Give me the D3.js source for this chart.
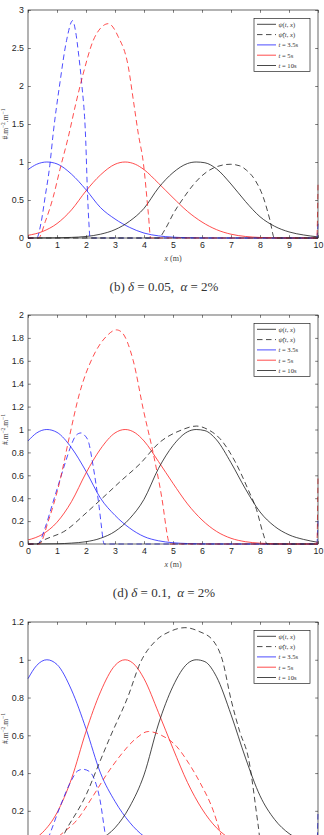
<!DOCTYPE html>
<html><head><meta charset="utf-8">
<script src="https://cdn.jsdelivr.net/npm/d3@7"></script>
<style>body{margin:0;background:#fff}svg{display:block}text{white-space:pre}</style>
</head><body>
<script>
// ---------- DATA ----------
const xTicks = [0,1,2,3,4,5,6,7,8,9,10];
const yTicks1 = [0,0.5,1,1.5,2,2.5,3];
const yTicks2 = [0,0.2,0.4,0.6,0.8,1,1.2,1.4,1.6,1.8,2];
const yTicks3 = [0,0.2,0.4,0.6,0.8,1,1.2];
const captions = ["(b)", "(d)"];
const deltas = ["0.05", "0.1"];
const alphas = ["2%", "2%"];
const legendLabels = ["ψ(t, x)", "ψ̂(t, x)", "t = 3.5s", "t = 5s", "t = 10s"];

// exact solution psi(t,x) at t = 3.5s, 5s, 10s (same in every panel)
const psiBlue = [[0,0.90],[0.3,0.97],[0.65,1.0],[1,0.975],[1.5,0.84],[2,0.635],[2.5,0.40],[3,0.25],[3.5,0.14],[4,0.065],[4.5,0.028],[5,0.011],[5.5,0.004],[6,0.001],[7,0],[10,0]];
const psiRed = [[0,0.035],[0.5,0.085],[1,0.19],[1.5,0.37],[2,0.62],[2.5,0.83],[3,0.97],[3.35,1.0],[3.7,0.97],[4,0.9],[4.5,0.72],[5,0.53],[5.5,0.35],[6,0.21],[6.5,0.11],[7,0.05],[7.5,0.02],[8,0.007],[8.5,0.002],[9,0],[10,0]];
const psiBlack = [[0,0],[1,0.002],[1.5,0.008],[2,0.02],[2.5,0.05],[3,0.11],[3.5,0.22],[4,0.39],[4.5,0.66],[5,0.86],[5.5,0.98],[5.8,1.0],[6.1,0.99],[6.5,0.91],[7,0.71],[7.5,0.48],[8,0.28],[8.5,0.155],[9,0.08],[9.5,0.04],[10,0.015]];

// estimated psi-hat, panel (b)
const hatBlue1 = [[0,0],[0.3,0],[0.45,0.2],[0.59,0.54],[0.75,0.95],[0.87,1.38],[1.1,2.04],[1.33,2.6],[1.54,2.86],[1.64,2.72],[1.75,2.4],[1.85,2.04],[1.99,1.29],[2.05,0.6],[2.1,0.2],[2.14,0],[9.96,0],[10,0.19]];
const hatRed1 = [[0,0],[0.36,0],[0.6,0.22],[0.87,0.54],[1.1,0.9],[1.39,1.33],[1.65,1.77],[1.91,2.17],[2.25,2.6],[2.5,2.76],[2.77,2.82],[3.11,2.65],[3.46,2.25],[3.63,1.82],[3.8,1.38],[3.98,0.98],[4.15,0.32],[4.23,0],[9.96,0],[10,0.72]];
const hatBlack1 = [[0,0],[4.49,0],[4.75,0.13],[5.01,0.32],[5.35,0.52],[5.7,0.70],[6.0,0.82],[6.39,0.92],[6.97,0.97],[7.3,0.95],[7.54,0.89],[7.85,0.75],[8.11,0.54],[8.34,0.24],[8.5,0],[10,0]];

// estimated psi-hat, panel (d)
const hatBlue2 = [[0,0],[0.33,0],[0.6,0.15],[0.85,0.355],[1.1,0.56],[1.31,0.73],[1.5,0.87],[1.66,0.95],[1.83,0.97],[1.95,0.95],[2.1,0.88],[2.22,0.72],[2.34,0.53],[2.45,0.33],[2.52,0.18],[2.6,0.02],[2.62,0],[9.96,0],[10,0.21]];
const hatRed2 = [[0,0],[0.39,0],[0.7,0.2],[1.08,0.53],[1.43,0.94],[1.77,1.31],[2.23,1.63],[2.69,1.81],[3.05,1.87],[3.23,1.85],[3.63,1.60],[3.98,1.17],[4.32,0.79],[4.61,0.41],[4.84,0.03],[4.87,0],[9.96,0],[10,0.59]];
const hatBlack2 = [[0,0],[0.3,0],[0.51,0.03],[1.31,0.12],[2.0,0.27],[2.69,0.43],[3.2,0.55],[3.86,0.70],[4.55,0.89],[5.24,0.99],[5.81,1.03],[6.2,1.0],[6.62,0.92],[7.14,0.72],[7.6,0.47],[7.88,0.30],[8.11,0.09],[8.25,0],[10,0]];

// estimated psi-hat, third panel
const hatBlue3 = [[0,0],[0.55,0],[0.76,0.08],[1.1,0.22],[1.51,0.365],[1.7,0.41],[1.89,0.42],[2.1,0.41],[2.25,0.38],[2.48,0.26],[2.66,0.08],[2.75,0],[9.96,0],[10,0.2]];
const hatRed3 = [[0,0],[0.6,0],[1.1,0.07],[1.68,0.15],[2.25,0.28],[2.7,0.39],[3.17,0.49],[3.7,0.58],[4.15,0.62],[4.6,0.60],[5.13,0.54],[5.55,0.45],[5.93,0.35],[6.39,0.2],[6.62,0.09],[6.8,0],[10,0]];
const hatBlack3 = [[0,0],[0.9,0],[1.39,0.12],[2.02,0.29],[2.37,0.42],[2.83,0.59],[3.46,0.81],[3.86,0.98],[4.4,1.1],[4.9,1.15],[5.41,1.17],[5.9,1.15],[6.39,1.10],[6.7,1.0],[7.0,0.79],[7.3,0.62],[7.6,0.48],[7.94,0.12],[8.05,0],[10,0]];

// ---------- DRAWING ----------
const W = 324, H = 835;
const COL = {blue:"#2020ff", red:"#ff2020", black:"#1a1a1a", axis:"#262626"};
const SERIF = "'Liberation Serif', 'DejaVu Serif', serif";
const svg = d3.select("body").append("svg").attr("width", W).attr("height", H);

const panels = [
  {top:10, bottom:238, yMax:3, yTicks:yTicks1, hat:[hatBlue1,hatRed1,hatBlack1], cap:0},
  {top:315, bottom:544, yMax:2, yTicks:yTicks2, hat:[hatBlue2,hatRed2,hatBlack2], cap:1},
  {top:622, bottom:848.6, yMax:1.2, yTicks:yTicks3, hat:[hatBlue3,hatRed3,hatBlack3], cap:-1}
];
const left = 28, right = 318;
const fmt = d => String(+d.toFixed(1));

panels.forEach(p => {
  const g = svg.append("g");
  const x = d3.scaleLinear().domain([0,10]).range([left,right]);
  const y = d3.scaleLinear().domain([0,p.yMax]).range([p.bottom,p.top]);
  const line = d3.line().x(d=>x(d[0])).y(d=>y(d[1])).curve(d3.curveMonotoneX);
  const onCanvas = p.bottom < H - 12;

  // axes
  const ax = (gen, tr, labels) => {
    const a = g.append("g").attr("transform", tr).call(gen);
    a.select(".domain").remove();
    a.selectAll("line").attr("stroke", COL.axis).attr("stroke-width", 0.6);
    a.selectAll("text").attr("font-family","'Liberation Sans', Arial, sans-serif").attr("font-size", 8.8).attr("fill", COL.axis);
    if (!labels) a.selectAll("text").remove();
    return a;
  };
  ax(d3.axisBottom(x).tickValues(xTicks).tickSize(-2.8).tickPadding(4).tickFormat(d3.format("d")), `translate(0,${p.bottom})`, onCanvas);
  ax(d3.axisTop(x).tickValues(xTicks).tickSize(-2.8), `translate(0,${p.top})`, false);
  ax(d3.axisLeft(y).tickValues(p.yTicks.filter(v => y(v) < H - 5)).tickSize(-2.8).tickPadding(4).tickFormat(fmt), `translate(${left},0)`, true);
  ax(d3.axisRight(y).tickValues(p.yTicks).tickSize(-2.8), `translate(${right},0)`, false);

  // curves
  const solid = [[psiBlue,COL.blue],[psiRed,COL.red],[psiBlack,COL.black]];
  solid.forEach(([d,c]) => g.append("path").datum(d).attr("d", line).attr("fill","none").attr("stroke",c).attr("stroke-width",0.8));
  const cols = [COL.blue, COL.red, COL.black];
  p.hat.forEach((d,i) => g.append("path").datum(d).attr("d", line).attr("fill","none").attr("stroke",cols[i]).attr("stroke-width",0.8).attr("stroke-dasharray","5.5,3.5"));

  // box
  g.append("rect").attr("x",left).attr("y",p.top).attr("width",right-left).attr("height",p.bottom-p.top)
    .attr("fill","none").attr("stroke",COL.axis).attr("stroke-width",0.7);

  // legend
  const lx = 254, ly = p.top + 8.5, lw = 56, lh = 53;
  const lg = g.append("g");
  lg.append("rect").attr("x",lx).attr("y",ly).attr("width",lw).attr("height",lh).attr("fill","#fff").attr("stroke",COL.axis).attr("stroke-width",0.7);
  const lcols = [COL.black, COL.black, COL.blue, COL.red, COL.black];
  legendLabels.forEach((t,i) => {
    const yy = ly + 5.8 + i*10.3;
    lg.append("line").attr("x1",lx+3).attr("x2",lx+22).attr("y1",yy).attr("y2",yy)
      .attr("stroke",lcols[i]).attr("stroke-width",0.8).attr("stroke-dasharray", i===1 ? "5.5,3.5" : null);
    const tx = lg.append("text").attr("x",lx+24.5).attr("y",yy+2.3)
      .attr("font-family",SERIF).attr("font-size",6.6).attr("fill","#333");
    if (i < 2) {
      tx.append("tspan").attr("font-style","italic").text(t.split("(")[0]);
      tx.append("tspan").text("(");
      tx.append("tspan").attr("font-style","italic").text("t");
      tx.append("tspan").text(", ");
      tx.append("tspan").attr("font-style","italic").text("x");
      tx.append("tspan").text(")");
    } else {
      tx.append("tspan").attr("font-style","italic").text("t");
      tx.append("tspan").text(t.slice(1));
    }
  });

  // y label
  const yl = g.append("text").attr("transform",`translate(8,${(p.top+Math.min(p.bottom,H))/2}) rotate(-90)`)
    .attr("text-anchor","middle").attr("font-family",SERIF).attr("font-size",7.5).attr("fill","#444");
  yl.append("tspan").text("#.m");
  yl.append("tspan").attr("dy",-3).attr("font-size",5.5).text("−2");
  yl.append("tspan").attr("dy",3).text(".m");
  yl.append("tspan").attr("dy",-3).attr("font-size",5.5).text("−1");

  // x label (only where it lies inside the picture)
  if (onCanvas) {
    const xl = g.append("text").attr("x",(left+right)/2).attr("y",p.bottom+23)
      .attr("text-anchor","middle").attr("font-family",SERIF).attr("font-size",8).attr("fill","#444");
    xl.append("tspan").attr("font-style","italic").text("x");
    xl.append("tspan").text(" (m)");
  }

  // caption
  if (p.cap >= 0) {
    const c = g.append("text").attr("x",164).attr("y",p.bottom+53)
      .attr("text-anchor","middle").attr("font-family",SERIF).attr("font-size",13).attr("fill","#333");
    c.append("tspan").text(captions[p.cap] + " ");
    c.append("tspan").attr("font-style","italic").text("δ");
    c.append("tspan").text(" = " + deltas[p.cap] + ",  ");
    c.append("tspan").attr("font-style","italic").text("α");
    c.append("tspan").text(" = " + alphas[p.cap]);
  }
});
</script>
</body></html>
